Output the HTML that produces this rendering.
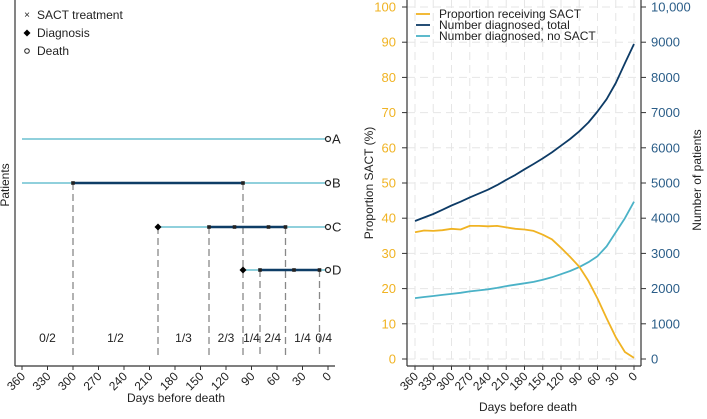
<!DOCTYPE html>
<html><head><meta charset="utf-8"><style>
body{margin:0;background:#fff;font-family:"Liberation Sans",sans-serif;}
svg text{font-family:"Liberation Sans",sans-serif;}
</style></head><body>
<svg id="s" width="707" height="414" viewBox="0 0 707 414" xmlns="http://www.w3.org/2000/svg"></svg>
<script>
// ===== Right chart data =====
const days = [360,345,330,315,300,285,270,255,240,225,210,195,180,165,150,135,120,105,90,75,60,45,30,15,0];
const propSACT = [36,36.5,36.4,36.6,37,36.8,37.8,37.8,37.7,37.8,37.4,37,36.8,36.4,35.3,34,31.6,29,26.2,22.2,17.2,11.6,6.2,2,0.3];
const totalDx = [3920,4020,4120,4240,4360,4470,4590,4700,4810,4940,5090,5230,5390,5540,5700,5870,6060,6250,6470,6720,7030,7380,7840,8400,8950];
const noSactDx = [1730,1760,1790,1820,1850,1880,1920,1950,1980,2020,2070,2110,2150,2190,2250,2320,2410,2500,2610,2750,2920,3200,3600,4000,4470];
const leftTicks = [0,10,20,30,40,50,60,70,80,90,100];
const rightTicks = ["0","1000","2000","3000","4000","5000","6000","7000","8000","9000","10,000"];
const xTicks = [360,330,300,270,240,210,180,150,120,90,60,30,0];
// ===== Left schematic data =====
const rowsY = {A:139,B:183,C:227,D:270};
const segs = [
 ["A",360,0,"light"],["B",360,0,"light"],["B",300,100,"dark"],
 ["C",200,0,"light"],["C",140,50,"dark"],["D",100,0,"light"],["D",80,10,"dark"]];
const sact = [["B",300],["B",100],["C",140],["C",110],["C",70],["C",50],["D",80],["D",40],["D",10]];
const diag = [["C",200],["D",100]];
const dashes = [["B",300],["B",100],["C",200],["C",140],["C",50],["D",80],["D",10]];
const ratioLabels = ["0/2","1/2","1/3","2/3","1/4","2/4","1/4","0/4"];
const ratioPos = [330,250,170,120,90,65,30,5];

const s=document.getElementById('s');const NS="http://www.w3.org/2000/svg";
function el(t,a,txt){const e=document.createElementNS(NS,t);for(const k in a)e.setAttribute(k,a[k]);if(txt!==undefined)e.textContent=txt;s.appendChild(e);return e;}
const LIGHT="#6cc0d0",DARK="#0e3d66",YEL="#f0b323",NAVY="#0d3b66",CYAN="#4bb2c7",RB="#2a5d88";
const FS=12;

// ---- left panel ----
const lx=d=>328-d*0.85;
let e=el('line',{x1:15,y1:0,x2:15,y2:366,stroke:'#333','stroke-width':1.2});

e=el('line',{x1:15,y1:366,x2:335,y2:366,stroke:'#333','stroke-width':1.2});

xTicks.forEach(d=>{const x=lx(d);el('line',{x1:x,y1:366,x2:x,y2:370,stroke:'#333'});
 e=el('text',{x:x+4,y:377,'font-size':FS,'text-anchor':'end',transform:`rotate(-45 ${x+4} 377)`,fill:'#222'},d);
 });
e=el('text',{x:176,y:402,'font-size':FS,'text-anchor':'middle',fill:'#222'},'Days before death');

e=el('text',{x:9,y:185,'font-size':FS,'text-anchor':'middle',transform:'rotate(-90 9 185)',fill:'#222'},'Patients');

dashes.forEach(([r,d])=>{e=el('line',{x1:lx(d),y1:rowsY[r],x2:lx(d),y2:358,stroke:'#888','stroke-width':1.3,'stroke-dasharray':'7,4'});
 });
segs.forEach(([r,a,b,t])=>{e=el('line',{x1:lx(a),y1:rowsY[r],x2:lx(b),y2:rowsY[r],stroke:t=='light'?LIGHT:DARK,'stroke-width':t=='light'?1.6:2.4});
 });
sact.forEach(([r,d])=>{e=el('rect',{x:lx(d)-1.8,y:rowsY[r]-1.8,width:3.6,height:3.6,fill:'#222'});
 });
diag.forEach(([r,d])=>{const x=lx(d),y=rowsY[r];e=el('path',{d:`M${x-3.5} ${y}L${x} ${y-3.5}L${x+3.5} ${y}L${x} ${y+3.5}Z`,fill:'#000'});
 });
Object.keys(rowsY).forEach(r=>{e=el('circle',{cx:lx(0),cy:rowsY[r],r:2.5,fill:'#fff',stroke:'#222','stroke-width':1.2});
 
 e=el('text',{x:lx(0)+4,y:rowsY[r]+4.5,'font-size':FS+1,fill:'#222'},r);
 });
ratioLabels.forEach((t,i)=>{e=el('text',{x:lx(ratioPos[i]),y:342,'font-size':FS,'text-anchor':'middle',fill:'#222'},t);
 });
// legend
e=el('text',{x:27,y:18,'font-size':10,'text-anchor':'middle',fill:'#222'},'×');
e=el('text',{x:37,y:19,'font-size':FS,fill:'#222'},'SACT treatment');
e=el('path',{d:'M23.5 33L27 29.5L30.5 33L27 36.5Z',fill:'#000'});
e=el('text',{x:37,y:37,'font-size':FS,fill:'#222'},'Diagnosis');
e=el('circle',{cx:27,cy:51,r:2.3,fill:'#fff',stroke:'#222'});
e=el('text',{x:37,y:55,'font-size':FS,fill:'#222'},'Death');

// ---- right panel ----
const rx=d=>634-d*(634-415)/360;
const ry=v=>359-v*3.52;
const ryN=n=>ry(n/100);
leftTicks.forEach(v=>{e=el('line',{x1:407,y1:ry(v),x2:641,y2:ry(v),stroke:'#e6e6e6','stroke-dasharray':'8,5'});
 });
xTicks.forEach(d=>{e=el('line',{x1:rx(d),y1:0,x2:rx(d),y2:366,stroke:'#e6e6e6','stroke-dasharray':'8,5'});
 });
e=el('line',{x1:407,y1:0,x2:407,y2:366,stroke:'#333','stroke-width':1.2});
e=el('line',{x1:641,y1:0,x2:641,y2:366,stroke:'#333','stroke-width':1.2});
e=el('line',{x1:407,y1:366,x2:641,y2:366,stroke:'#333','stroke-width':1.2});
leftTicks.forEach((v,i)=>{const y=ry(v);el('line',{x1:402,y1:y,x2:407,y2:y,stroke:'#333'});el('line',{x1:641,y1:y,x2:646,y2:y,stroke:'#333'});
 e=el('text',{x:396,y:y+4.5,'font-size':FS+1,'text-anchor':'end',fill:YEL},v);
 e=el('text',{x:651,y:y+4.5,'font-size':FS+1,fill:RB},rightTicks[i]);});
xTicks.forEach(d=>{const x=rx(d);el('line',{x1:x,y1:366,x2:x,y2:370,stroke:'#333'});
 e=el('text',{x:x+4,y:377,'font-size':FS,'text-anchor':'end',transform:`rotate(-45 ${x+4} 377)`,fill:'#222'},d);
 });
e=el('text',{x:528,y:411,'font-size':FS,'text-anchor':'middle',fill:'#222'},'Days before death');
e=el('text',{x:373,y:183,'font-size':FS,'text-anchor':'middle',transform:'rotate(-90 373 183)',fill:'#222'},'Proportion SACT (%)');
e=el('text',{x:701,y:180,'font-size':FS,'text-anchor':'middle',transform:'rotate(-90 701 180)',fill:'#222'},'Number of patients');
function line(vals,f,c,name){const d=days.map((dd,i)=>(i?'L':'M')+rx(dd).toFixed(1)+' '+f(vals[i]).toFixed(1)).join('');
 const p=el('path',{d:d,fill:'none',stroke:c,'stroke-width':1.8,'stroke-linejoin':'round'});
 }
line(noSactDx,ryN,CYAN,'series-no-sact');
line(totalDx,ryN,NAVY,'series-total');
line(propSACT,ry,YEL,'series-proportion');
[[YEL,'Proportion receiving SACT',14],[NAVY,'Number diagnosed, total',25],[CYAN,'Number diagnosed, no SACT',36]].forEach(([c,t,y])=>{
 e=el('line',{x1:416,y1:y,x2:430,y2:y,stroke:c,'stroke-width':1.8});
 e=el('text',{x:439,y:y+4,'font-size':FS,fill:'#222'},t);});
</script>
</body></html>
